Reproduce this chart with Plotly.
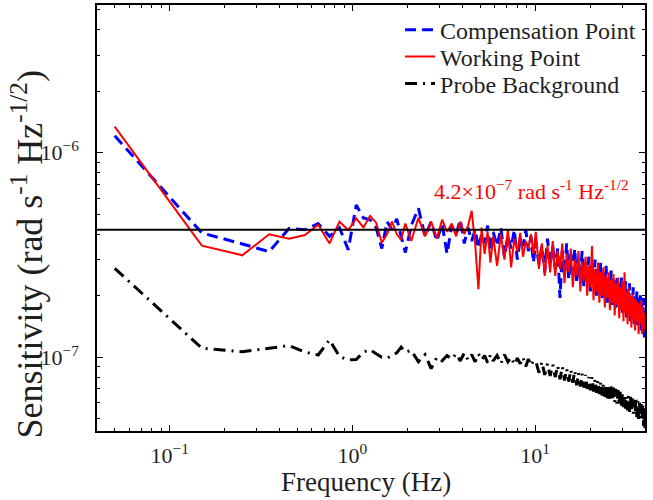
import math
import plotly.graph_objects as go

# ---------------- data (sensitivity in units of 1e-7 rad s^-1 Hz^-1/2) ----------------
UNIT = 1e-7

freq = [0.05, 0.15, 0.25, 0.35, 0.45, 0.55, 0.65, 0.75, 0.85, 0.95,
        1.05, 1.15, 1.25, 1.35, 1.45, 1.55, 1.65, 1.75, 1.85, 1.95,
        2.1, 2.3, 2.5, 2.7, 2.9, 3.1, 3.3, 3.5, 3.7, 3.9,
        4.1, 4.3, 4.5, 4.7, 4.9, 5.1, 5.3, 5.5, 5.7, 5.9,
        6.2, 6.5, 6.8, 7.1, 7.4, 7.7, 8.0, 8.3, 8.6, 8.9,
        9.2, 9.5, 9.8,
        10.1, 10.5, 10.9, 11.3, 11.7, 12.1, 12.5, 12.9, 13.3, 13.7,
        14.1, 14.5, 14.9, 15.3, 15.7, 16.1, 16.5, 16.9, 17.3, 17.7,
        18.1, 18.5, 18.9, 19.3, 19.7, 20.1, 20.5, 20.9, 21.3, 21.7,
        22.1, 22.5, 22.9, 23.3, 23.7, 24.1, 24.5, 24.9, 25.3, 25.7,
        26.1, 26.5, 26.9, 27.3, 27.7, 28.1, 28.5, 28.9, 29.3, 29.7,
        30.1, 30.5, 30.9, 31.3, 31.7, 32.1, 32.5, 32.9, 33.3, 33.7,
        34.1, 34.5, 34.9, 35.3, 35.7, 36.1, 36.5, 36.9, 37.3, 37.7,
        38.1, 38.5, 38.9, 39.3, 39.7, 40.0]

compensation = [12.1, 4.05, 3.58, 3.28, 4.26, 4.2, 4.5, 3.9, 4.3, 3.35,
                5.55, 4.8, 4.7, 4.3, 3.4, 4.6, 4.2, 4.75, 3.9, 3.25,
                4.4, 5.35, 3.9, 4.6, 3.7, 4.5, 3.2, 4.4, 4.0, 4.7,
                3.6, 4.3, 3.7, 4.2, 3.4, 4.0, 3.6, 4.4, 3.3, 4.1,
                3.5, 4.3, 3.1, 3.9, 3.4, 4.2, 3.0, 3.8, 3.5, 4.2,
                3.3, 3.9, 2.9,
                3.7, 2.85, 3.5, 2.6, 3.8, 2.8, 3.5, 2.7, 3.4, 1.95,
                3.3, 2.5, 3.6, 2.4, 3.2, 2.6, 3.4, 2.3, 3.0, 2.5,
                3.3, 2.2, 2.9, 2.4, 3.1, 2.1, 2.8, 2.3, 3.0, 2.0,
                2.7, 2.2, 2.9, 1.9, 2.6, 2.1, 2.8, 1.85, 2.5, 2.0,
                2.65, 1.8, 2.4, 1.95, 1.7, 2.5, 1.75, 2.3, 1.9, 2.45,
                1.65, 2.2, 1.8, 2.35, 1.55, 2.15, 1.7, 2.3, 1.5, 2.0,
                1.65, 2.2, 1.45, 1.95, 1.6, 2.1, 1.4, 1.9, 1.55, 2.05,
                1.35, 1.85, 1.5, 1.95, 1.25, 1.7]

working = [13.4, 3.51, 3.15, 3.99, 3.80, 3.96, 4.44, 3.60, 4.60, 4.19,
           4.77, 4.31, 4.91, 4.55, 3.63, 4.0, 4.6, 4.0, 3.75, 4.5,
           3.7, 4.8, 3.9, 4.6, 3.8, 4.7, 4.1, 4.5, 3.9, 4.6,
           4.0, 4.4, 5.2, 3.6, 2.15, 4.3, 3.2, 4.1, 2.9, 3.9,
           2.8, 4.0, 3.0, 4.2, 2.75, 3.8, 3.3, 4.05, 3.1, 3.7,
           3.4, 4.0, 3.2,
           4.1, 2.7, 3.6, 2.5, 3.5, 2.6, 3.7, 2.5, 3.3, 2.7,
           3.6, 2.3, 3.2, 2.6, 3.4, 2.2, 3.0, 2.5, 3.3, 2.1,
           2.9, 2.35, 3.1, 2.0, 2.8, 2.2, 3.5, 1.9, 2.7, 2.1,
           2.9, 1.85, 2.6, 2.0, 2.75, 1.75, 2.5, 1.95, 2.6, 1.7,
           2.4, 1.85, 2.55, 1.6, 2.3, 1.8, 2.45, 1.55, 2.2, 1.7,
           2.35, 1.5, 2.6, 1.65, 2.1, 1.45, 2.2, 1.6, 2.0, 1.4,
           2.05, 1.55, 1.95, 1.35, 1.9, 1.5, 1.85, 1.3, 1.8, 1.45,
           1.9, 1.3, 1.75, 1.4, 1.65, 1.35]

background = [2.72, 1.107, 1.064, 1.107, 1.14, 1.06, 1.026, 1.216, 1.01, 0.97,
              0.975, 1.06, 1.09, 1.04, 1.0, 0.99, 1.02, 1.05, 1.12, 1.06,
              1.08, 0.95, 1.03, 0.88, 1.0, 0.96, 1.02, 0.98, 1.04, 0.96,
              1.05, 0.97, 1.03, 0.95, 1.04, 0.97, 1.02, 0.94, 1.03, 0.96,
              1.02, 0.93, 1.03, 0.95, 1.0, 0.92, 0.99, 0.93, 1.0, 0.9,
              0.98, 0.91, 0.96,
              0.96, 0.84, 0.95, 0.82, 0.93, 0.81, 0.92, 0.8, 0.91, 0.78,
              0.9, 0.77, 0.88, 0.76, 0.87, 0.75, 0.86, 0.73, 0.84, 0.72,
              0.83, 0.71, 0.82, 0.7, 0.8, 0.69, 0.8, 0.68, 0.78, 0.67,
              0.77, 0.66, 0.76, 0.65, 0.75, 0.64, 0.74, 0.63, 0.73, 0.62,
              0.72, 0.61, 0.71, 0.6, 0.7, 0.59, 0.69, 0.58, 0.68, 0.58,
              0.67, 0.57, 0.66, 0.56, 0.65, 0.55, 0.65, 0.54, 0.64, 0.54,
              0.63, 0.53, 0.62, 0.52, 0.62, 0.51, 0.61, 0.5, 0.6, 0.5,
              0.59, 0.49, 0.58, 0.46, 0.57, 0.45]

threshold = 4.2  # 4.2e-7 reference level

x_range = [0.04, 40.0]
y_range = [4.36e-8, 5.27e-6]

x_tickvals = [0.1, 1, 10]
x_ticktext = ["10<sup>−1</sup>", "10<sup>0</sup>", "10<sup>1</sup>"]
y_tickvals = [1e-7, 1e-6]
y_ticktext = ["10<sup>−7</sup>", "10<sup>−6</sup>"]

# ---------------- figure ----------------
FONT = "Liberation Serif"
TXT = "#1f1f1f"


def scale(vals):
    return [v * UNIT for v in vals]


fig = go.Figure()

fig.add_trace(go.Scatter(
    x=freq, y=scale(compensation), mode="lines", name="Compensation Point",
    legend="legend",
    line=dict(color="#0000ff", width=3, dash="11px,6px")))

fig.add_trace(go.Scatter(
    x=freq, y=scale(working), mode="lines", name="Working Point",
    legend="legend2",
    line=dict(color="#ff0000", width=2)))

fig.add_trace(go.Scatter(
    x=freq, y=scale(background), mode="lines", name="Probe Background",
    legend="legend3",
    line=dict(color="black", width=3, dash="12px,6px,2px,6px")))

fig.add_trace(go.Scatter(
    x=x_range, y=[threshold * UNIT] * 2, mode="lines",
    line=dict(color="black", width=2.2), showlegend=False, hoverinfo="skip"))

minor_x = [m * d for d in (0.01, 0.1, 1, 10) for m in range(2, 10)
           if x_range[0] <= m * d <= x_range[1]]
minor_y = [m * d for d in (1e-8, 1e-7, 1e-6) for m in range(2, 10)
           if y_range[0] <= m * d <= y_range[1]]

axis_common = dict(
    type="log", tickmode="array",
    ticks="inside", ticklen=6, tickwidth=1, tickcolor="black",
    showline=True, linecolor="black", linewidth=1.5, mirror="ticks",
    showgrid=False, zeroline=False, automargin=False,
    tickfont=dict(family=FONT, size=22, color=TXT),
)

fig.update_xaxes(
    range=[math.log10(x_range[0]), math.log10(x_range[1])],
    tickvals=x_tickvals, ticktext=x_ticktext, ticklabelstandoff=4,
    minor=dict(tickmode="array", tickvals=minor_x, ticks="inside",
               ticklen=3, tickcolor="black", showgrid=False),
    **axis_common,
)
fig.update_yaxes(
    range=[math.log10(y_range[0]), math.log10(y_range[1])],
    tickvals=y_tickvals, ticktext=y_ticktext, ticklabelstandoff=12,
    minor=dict(tickmode="array", tickvals=minor_y, ticks="inside",
               ticklen=3, tickcolor="black", showgrid=False),
    **axis_common,
)

fig.add_annotation(
    xref="paper", yref="paper", x=0.975, y=0.566, xanchor="right", yanchor="middle",
    text="4.2×10<sup>−7</sup> rad s<sup>-1</sup> Hz<sup>-1/2</sup>",
    showarrow=False, font=dict(family=FONT, size=22, color="#ff0000"))

fig.add_annotation(
    xref="paper", yref="paper", x=0.49, y=-0.08, xanchor="center", yanchor="top",
    text="Frequency (Hz)", showarrow=False,
    font=dict(family=FONT, size=27, color=TXT))

fig.add_annotation(
    xref="paper", yref="paper", x=-0.127, y=0.415, xanchor="center", yanchor="middle",
    textangle=-90, text="Sensitivity (rad s<sup>-1</sup> Hz<sup>-1/2</sup>)",
    showarrow=False, font=dict(family=FONT, size=36, color=TXT))

legend_common = dict(x=0.553, xanchor="left", yanchor="middle",
                     bgcolor="rgba(0,0,0,0)", borderwidth=0,
                     font=dict(family=FONT, size=24, color=TXT))

fig.update_layout(
    width=653, height=500,
    margin=dict(l=97, r=8, t=5, b=69),
    paper_bgcolor="white", plot_bgcolor="white",
    font=dict(family=FONT, color=TXT),
    legend=dict(y=0.941, **legend_common),
    legend2=dict(y=0.878, **legend_common),
    legend3=dict(y=0.815, **legend_common),
    showlegend=True,
)

fig.write_html(
    "out.html",
    config={"displayModeBar": False},
    post_script="document.body.style.margin='0px';"
                "document.documentElement.style.overflow='hidden';",
)
